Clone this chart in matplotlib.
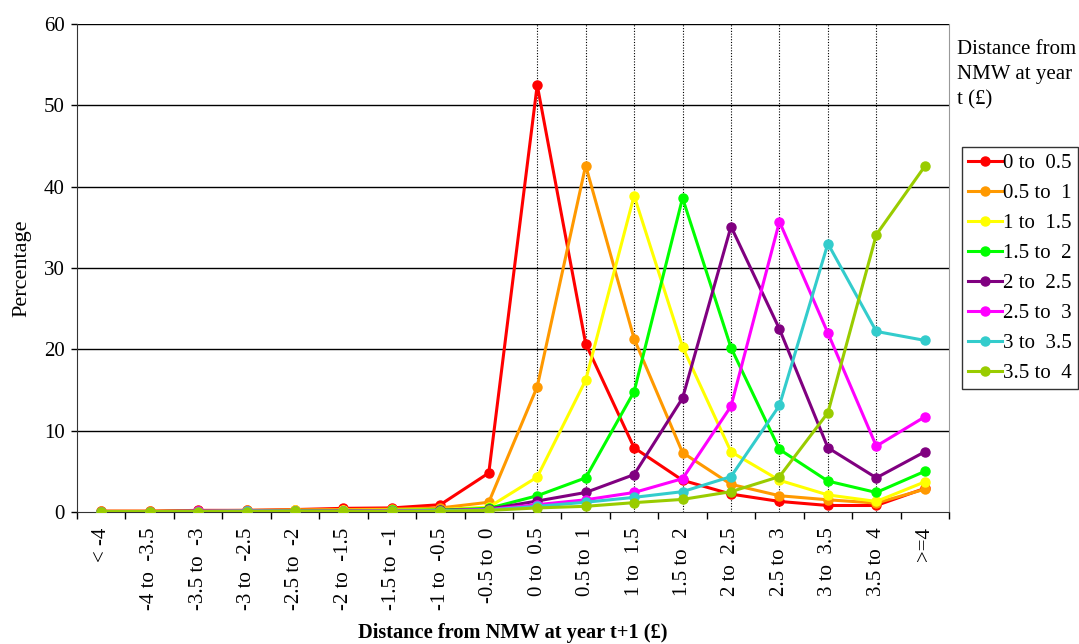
import matplotlib.pyplot as plt
import numpy as np

plt.rcParams['font.family'] = ['Liberation Serif', 'DejaVu Serif']

# categories on the x axis (distance from NMW at t+1)
categories = ["< -4", "-4 to  -3.5", "-3.5 to  -3", "-3 to  -2.5", "-2.5 to  -2",
              "-2 to  -1.5", "-1.5 to  -1", "-1 to  -0.5", "-0.5 to  0",
              "0 to  0.5", "0.5 to  1", "1 to  1.5", "1.5 to  2", "2 to  2.5",
              "2.5 to  3", "3 to  3.5", "3.5 to  4", ">=4"]

series_names = ["0 to  0.5", "0.5 to  1", "1 to  1.5", "1.5 to  2",
                "2 to  2.5", "2.5 to  3", "3 to  3.5", "3.5 to  4"]

s_0_05 = [0.1, 0.1, 0.2, 0.2, 0.3, 0.45, 0.5, 0.9, 4.8,
          52.5, 20.7, 7.9, 3.9, 2.2, 1.3, 0.8, 0.8, 2.9]
s_05_1 = [0.1, 0.1, 0.15, 0.2, 0.25, 0.3, 0.35, 0.5, 1.2,
          15.4, 42.6, 21.3, 7.3, 3.4, 2.0, 1.5, 1.1, 2.8]
s_1_15 = [0.05, 0.05, 0.1, 0.15, 0.2, 0.2, 0.25, 0.3, 0.6,
          4.3, 16.2, 38.9, 20.3, 7.4, 3.9, 2.1, 1.3, 3.7]
s_15_2 = [0.05, 0.05, 0.1, 0.1, 0.15, 0.15, 0.2, 0.25, 0.45,
          2.0, 4.2, 14.8, 38.6, 20.2, 7.7, 3.8, 2.4, 5.0]
s_2_25 = [0.05, 0.05, 0.1, 0.1, 0.1, 0.15, 0.15, 0.2, 0.35,
          1.35, 2.4, 4.6, 14.0, 35.1, 22.5, 7.9, 4.2, 7.4]
s_25_3 = [0.05, 0.05, 0.1, 0.1, 0.1, 0.1, 0.15, 0.15, 0.3,
          0.9, 1.5, 2.4, 4.1, 13.0, 35.7, 22.0, 8.1, 11.7]
s_3_35 = [0.05, 0.05, 0.05, 0.1, 0.1, 0.1, 0.1, 0.15, 0.25,
          0.7, 1.2, 1.8, 2.5, 4.35, 13.1, 33.0, 22.2, 21.1]
s_35_4 = [0.05, 0.05, 0.05, 0.05, 0.1, 0.1, 0.1, 0.1, 0.2,
          0.5, 0.7, 1.15, 1.55, 2.5, 4.35, 12.2, 34.1, 42.5]

all_series = [s_0_05, s_05_1, s_1_15, s_15_2, s_2_25, s_25_3, s_3_35, s_35_4]
colors = ["#FF0000", "#FF9900", "#FFFF00", "#00FF00",
          "#800080", "#FF00FF", "#33CCCC", "#99CC00"]

W, H = 1079, 644
fig = plt.figure(figsize=(W / 100, H / 100), dpi=100)
ax = fig.add_axes([77 / W, 132 / H, (949 - 77) / W, 488 / H])

x = np.arange(len(categories))

# horizontal gridlines
for yv in range(10, 61, 10):
    ax.axhline(yv, color="black", lw=1.0, zorder=1)

# dotted vertical lines through the positive categories
for i in range(9, 17):
    ax.axvline(x[i], color="black", lw=0.8, ls=(0, (1, 1.5)), zorder=1)

for vals, col, name in zip(all_series, colors, series_names):
    ax.plot(x, vals, '-o', color=col, lw=2.2, markersize=6.5, label=name, zorder=3)

ax.set_xlim(-0.5, len(categories) - 0.5)
ax.set_ylim(0, 60)
ax.set_yticks(range(0, 61, 10))
ax.tick_params(axis='y', labelsize=15, direction='out', length=4, width=1, pad=5)
ax.set_xticks(np.arange(-0.5, len(categories) + 0.5, 1))
ax.set_xticklabels([])
ax.set_xticks(x, minor=True)
ax.set_xticklabels(categories, minor=True, rotation=90, fontsize=15)
ax.tick_params(axis='x', which='major', direction='out', length=5, width=1)
ax.tick_params(axis='x', which='minor', length=0, pad=11)

ax.spines['top'].set_visible(False)
ax.spines['right'].set_color("#999999")
ax.spines['left'].set_color("#333333")
ax.spines['bottom'].set_color("#333333")

fig.text(22 / W, 1 - 268 / H, "Percentage", rotation=90,
         ha="center", va="center", fontsize=16)
fig.text((77 + 949) / 2 / W, 1 - 633 / H, "Distance from NMW at year t+1 (\u00a3)",
         ha="center", va="center", fontsize=14.7, fontweight="bold")

fig.text(957 / W, 1 - 40 / H, "Distance from\nNMW at year\nt (\u00a3)",
         ha="left", va="top", fontsize=15, linespacing=1.45)

leg = fig.legend(loc="upper left", bbox_to_anchor=(962 / W, 1 - 147 / H),
                 fontsize=15, frameon=True, fancybox=False, edgecolor="black",
                 handlelength=1.6, handletextpad=0.05, labelspacing=0.5,
                 borderpad=0.3, borderaxespad=0)
leg.get_frame().set_linewidth(1.0)

fig.savefig("out.png", dpi=100)
